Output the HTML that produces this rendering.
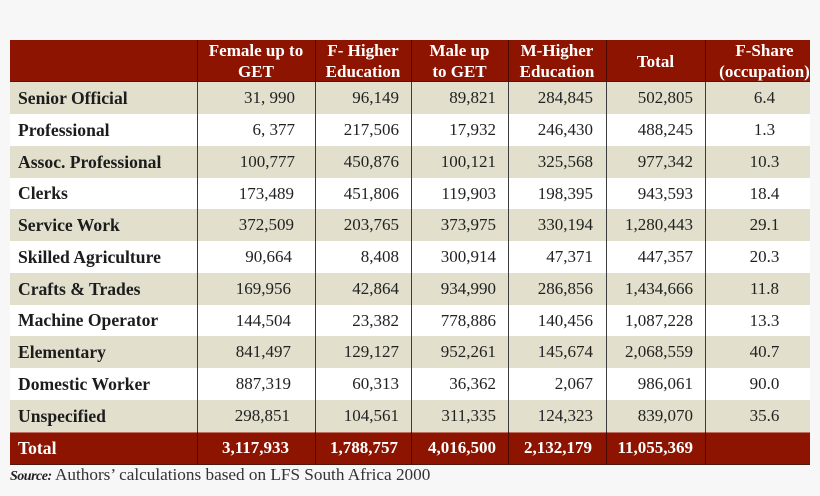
<!DOCTYPE html>
<html>
<head>
<meta charset="utf-8">
<style>
  html,body{margin:0;padding:0;}
  body{width:820px;height:496px;background:#f7f7f7;position:relative;overflow:hidden;
       font-family:"Liberation Serif",serif;}
  .abs{position:absolute;}
  .row{position:absolute;left:10px;width:800px;}
  .beige{background:#e2dfcd;}
  .white{background:#ffffff;}
  .red{background:#8d1400;}
  .cell{position:absolute;top:0;height:100%;display:flex;align-items:center;font-size:17px;color:#222;white-space:nowrap;}
  .lab{left:8px;font-weight:bold;color:#1c1c1c;font-size:17.6px;}
  .num{justify-content:flex-end;}
  .ctr{justify-content:center;}
  .hd{position:absolute;top:40px;height:42px;display:flex;align-items:center;justify-content:center;
      text-align:center;color:#fff;font-weight:bold;font-size:17px;line-height:21px;white-space:nowrap;}
  .tot .cell{color:#fff;font-weight:bold;}
  .vl{position:absolute;width:1px;}
</style>
</head>
<body>

<!-- header -->
<div class="row red" style="top:40px;height:42px;"></div>
<div class="hd" style="left:197px;width:118px;">Female up to<br>GET</div>
<div class="hd" style="left:315px;width:96px;">F- Higher<br>Education</div>
<div class="hd" style="left:411px;width:97px;">Male up<br>to GET</div>
<div class="hd" style="left:508px;width:98px;">M-Higher<br>Education</div>
<div class="hd" style="left:606px;width:99px;">Total</div>
<div class="hd" style="left:719px;width:91px;">F-Share<br>(occupation)</div>
<div class="abs" style="left:10px;top:81px;width:800px;height:1px;background:#5a1208;"></div>

<!-- body rows -->
<div class="row beige" style="top:82px;height:32px;">
  <div class="cell lab">Senior Official</div>
  <div class="cell num" style="left:187px;width:98px;">31, 990</div>
  <div class="cell num" style="left:305px;width:84px;">96,149</div>
  <div class="cell num" style="left:401px;width:85px;">89,821</div>
  <div class="cell num" style="left:498px;width:85px;">284,845</div>
  <div class="cell num" style="left:596px;width:87px;">502,805</div>
  <div class="cell ctr" style="left:709px;width:91px;">6.4</div>
</div>
<div class="row white" style="top:114px;height:32px;">
  <div class="cell lab">Professional</div>
  <div class="cell num" style="left:187px;width:98px;">6, 377</div>
  <div class="cell num" style="left:305px;width:84px;">217,506</div>
  <div class="cell num" style="left:401px;width:85px;">17,932</div>
  <div class="cell num" style="left:498px;width:85px;">246,430</div>
  <div class="cell num" style="left:596px;width:87px;">488,245</div>
  <div class="cell ctr" style="left:709px;width:91px;">1.3</div>
</div>
<div class="row beige" style="top:146px;height:32px;">
  <div class="cell lab">Assoc. Professional</div>
  <div class="cell num" style="left:187px;width:98px;">100,777</div>
  <div class="cell num" style="left:305px;width:84px;">450,876</div>
  <div class="cell num" style="left:401px;width:85px;">100,121</div>
  <div class="cell num" style="left:498px;width:85px;">325,568</div>
  <div class="cell num" style="left:596px;width:87px;">977,342</div>
  <div class="cell ctr" style="left:709px;width:91px;">10.3</div>
</div>
<div class="row white" style="top:178px;height:31px;">
  <div class="cell lab">Clerks</div>
  <div class="cell num" style="left:187px;width:97px;">173,489</div>
  <div class="cell num" style="left:305px;width:84px;">451,806</div>
  <div class="cell num" style="left:401px;width:85px;">119,903</div>
  <div class="cell num" style="left:498px;width:85px;">198,395</div>
  <div class="cell num" style="left:596px;width:87px;">943,593</div>
  <div class="cell ctr" style="left:709px;width:91px;">18.4</div>
</div>
<div class="row beige" style="top:209px;height:32px;">
  <div class="cell lab">Service Work</div>
  <div class="cell num" style="left:187px;width:97px;">372,509</div>
  <div class="cell num" style="left:305px;width:84px;">203,765</div>
  <div class="cell num" style="left:401px;width:85px;">373,975</div>
  <div class="cell num" style="left:498px;width:85px;">330,194</div>
  <div class="cell num" style="left:596px;width:87px;">1,280,443</div>
  <div class="cell ctr" style="left:709px;width:91px;">29.1</div>
</div>
<div class="row white" style="top:241px;height:32px;">
  <div class="cell lab">Skilled Agriculture</div>
  <div class="cell num" style="left:187px;width:95px;">90,664</div>
  <div class="cell num" style="left:305px;width:84px;">8,408</div>
  <div class="cell num" style="left:401px;width:85px;">300,914</div>
  <div class="cell num" style="left:498px;width:85px;">47,371</div>
  <div class="cell num" style="left:596px;width:87px;">447,357</div>
  <div class="cell ctr" style="left:709px;width:91px;">20.3</div>
</div>
<div class="row beige" style="top:273px;height:32px;">
  <div class="cell lab">Crafts &amp; Trades</div>
  <div class="cell num" style="left:187px;width:94px;">169,956</div>
  <div class="cell num" style="left:305px;width:84px;">42,864</div>
  <div class="cell num" style="left:401px;width:85px;">934,990</div>
  <div class="cell num" style="left:498px;width:85px;">286,856</div>
  <div class="cell num" style="left:596px;width:87px;">1,434,666</div>
  <div class="cell ctr" style="left:709px;width:91px;">11.8</div>
</div>
<div class="row white" style="top:305px;height:31px;">
  <div class="cell lab">Machine Operator</div>
  <div class="cell num" style="left:187px;width:94px;">144,504</div>
  <div class="cell num" style="left:305px;width:84px;">23,382</div>
  <div class="cell num" style="left:401px;width:85px;">778,886</div>
  <div class="cell num" style="left:498px;width:85px;">140,456</div>
  <div class="cell num" style="left:596px;width:87px;">1,087,228</div>
  <div class="cell ctr" style="left:709px;width:91px;">13.3</div>
</div>
<div class="row beige" style="top:336px;height:32px;">
  <div class="cell lab">Elementary</div>
  <div class="cell num" style="left:187px;width:94px;">841,497</div>
  <div class="cell num" style="left:305px;width:84px;">129,127</div>
  <div class="cell num" style="left:401px;width:85px;">952,261</div>
  <div class="cell num" style="left:498px;width:85px;">145,674</div>
  <div class="cell num" style="left:596px;width:87px;">2,068,559</div>
  <div class="cell ctr" style="left:709px;width:91px;">40.7</div>
</div>
<div class="row white" style="top:368px;height:32px;">
  <div class="cell lab">Domestic Worker</div>
  <div class="cell num" style="left:187px;width:94px;">887,319</div>
  <div class="cell num" style="left:305px;width:84px;">60,313</div>
  <div class="cell num" style="left:401px;width:85px;">36,362</div>
  <div class="cell num" style="left:498px;width:85px;">2,067</div>
  <div class="cell num" style="left:596px;width:87px;">986,061</div>
  <div class="cell ctr" style="left:709px;width:91px;">90.0</div>
</div>
<div class="row beige" style="top:400px;height:32px;">
  <div class="cell lab">Unspecified</div>
  <div class="cell num" style="left:187px;width:93px;">298,851</div>
  <div class="cell num" style="left:305px;width:84px;">104,561</div>
  <div class="cell num" style="left:401px;width:85px;">311,335</div>
  <div class="cell num" style="left:498px;width:85px;">124,323</div>
  <div class="cell num" style="left:596px;width:87px;">839,070</div>
  <div class="cell ctr" style="left:709px;width:91px;">35.6</div>
</div>

<!-- total row -->
<div class="row red tot" style="top:432px;height:32px;">
  <div class="cell lab">Total</div>
  <div class="cell num" style="left:187px;width:92px;">3,117,933</div>
  <div class="cell num" style="left:305px;width:83px;">1,788,757</div>
  <div class="cell num" style="left:401px;width:85px;">4,016,500</div>
  <div class="cell num" style="left:498px;width:84px;">2,132,179</div>
  <div class="cell num" style="left:596px;width:87px;">11,055,369</div>
</div>
<div class="abs" style="left:10px;top:432px;width:800px;height:1px;background:#c07060;"></div>
<div class="abs" style="left:10px;top:464px;width:800px;height:1px;background:#4a1a10;"></div>

<!-- vertical lines -->
<div class="vl" style="left:197px;top:40px;height:424px;background:#3c3c3c;"></div>
<div class="vl" style="left:315px;top:40px;height:424px;background:#3c3c3c;"></div>
<div class="vl" style="left:411px;top:40px;height:424px;background:#3c3c3c;"></div>
<div class="vl" style="left:508px;top:40px;height:424px;background:#3c3c3c;"></div>
<div class="vl" style="left:606px;top:40px;height:424px;background:#3c3c3c;"></div>
<div class="vl" style="left:705px;top:40px;height:424px;background:#3c3c3c;"></div>
<!-- darker lines over the red header/total -->
<div class="vl" style="left:197px;top:40px;height:42px;background:#4a0a00;"></div>
<div class="vl" style="left:315px;top:40px;height:42px;background:#4a0a00;"></div>
<div class="vl" style="left:411px;top:40px;height:42px;background:#4a0a00;"></div>
<div class="vl" style="left:508px;top:40px;height:42px;background:#4a0a00;"></div>
<div class="vl" style="left:606px;top:40px;height:42px;background:#4a0a00;"></div>
<div class="vl" style="left:705px;top:40px;height:42px;background:#4a0a00;"></div>
<div class="vl" style="left:197px;top:432px;height:32px;background:#4a0a00;"></div>
<div class="vl" style="left:315px;top:432px;height:32px;background:#4a0a00;"></div>
<div class="vl" style="left:411px;top:432px;height:32px;background:#4a0a00;"></div>
<div class="vl" style="left:508px;top:432px;height:32px;background:#4a0a00;"></div>
<div class="vl" style="left:606px;top:432px;height:32px;background:#4a0a00;"></div>
<div class="vl" style="left:705px;top:432px;height:32px;background:#4a0a00;"></div>

<!-- source -->
<div class="abs" style="left:10px;top:464px;height:22px;line-height:22px;font-size:17.2px;color:#333;white-space:nowrap;">
  <span style="font-weight:bold;font-style:italic;font-size:14px;letter-spacing:-0.5px;color:#222;">Source:</span> Authors’ calculations based on LFS South Africa 2000
</div>

</body>
</html>
